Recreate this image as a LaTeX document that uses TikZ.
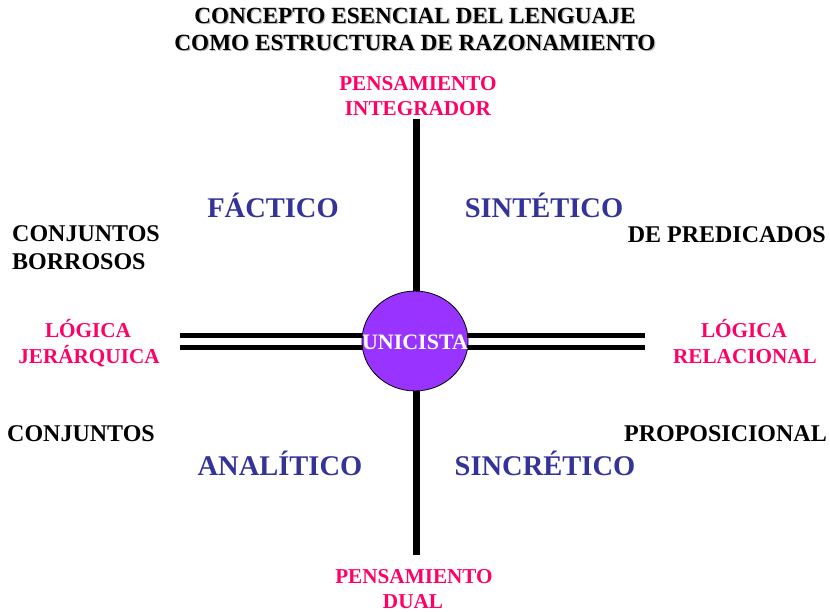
\documentclass[tikz,border=0pt]{standalone}
\usepackage{fontspec}
\setmainfont{Liberation Serif}
\definecolor{pinkc}{HTML}{FF0066}
\definecolor{bluec}{HTML}{333399}
\definecolor{purplec}{HTML}{9933FF}
\begin{document}
\begin{tikzpicture}[x=1pt,y=-1pt,
  ttl/.style={font=\bfseries\fontsize{23.2}{28}\selectfont, inner sep=0pt, anchor=base},
  ttlsh/.style={ttl, text=black!28},
  pk/.style={font=\bfseries\fontsize{21.2}{25}\selectfont, text=pinkc, inner sep=0pt, anchor=base},
  bl/.style={font=\bfseries\fontsize{28.5}{32}\selectfont, text=bluec, inner sep=0pt, anchor=base},
  bk/.style={font=\bfseries\fontsize{24}{28}\selectfont, text=black, inner sep=0pt},
  bar/.style={line width=6.5pt, black},
  hbar/.style={line width=5pt, black}]
\useasboundingbox (0,0) rectangle (830,611);
% title with shadow
\node[ttlsh] at (416.2,24.7) {CONCEPTO ESENCIAL DEL LENGUAJE};
\node[ttl] (t1) at (415,23.5) {CONCEPTO ESENCIAL DEL LENGUAJE};
\node[ttlsh] at (416.2,51.2) {COMO ESTRUCTURA DE RAZONAMIENTO};
\node[ttl] (t2) at (415,50) {COMO ESTRUCTURA DE RAZONAMIENTO};
% centre
\node[draw=black, line width=0.8pt, fill=purplec, circle, minimum size=103pt, inner sep=0pt, xscale=1.03, yscale=0.97] (c) at (415,341) {};
\coordinate (ctop) at (416.5,291);
\coordinate (cbot) at (416.5,391);
\coordinate (top) at (416.5,119);
\coordinate (bot) at (416.5,555);
\draw[bar] (top) -- (ctop);
\draw[bar] (cbot) -- (bot);
\coordinate (l1) at (180,335.5);
\coordinate (l2) at (180,347);
\coordinate (cl1) at (363,335.5);
\coordinate (cl2) at (363,347);
\coordinate (r1) at (645,335.5);
\coordinate (r2) at (645,347);
\coordinate (cr1) at (467,335.5);
\coordinate (cr2) at (467,347);
\draw[hbar] (l1) -- (cl1);
\draw[hbar] (l2) -- (cl2);
\draw[hbar] (cr1) -- (r1);
\draw[hbar] (cr2) -- (r2);
\node[font=\bfseries\fontsize{22}{26}\selectfont, text=white, inner sep=0pt, anchor=base] (u) at (415,349) {UNICISTA};
% pink labels
\node[pk] (pi1) at (418,90) {PENSAMIENTO};
\node[pk] (pi2) at (418,115) {INTEGRADOR};
\node[pk] (pd1) at (414,583) {PENSAMIENTO};
\node[pk] (pd2) at (413,608) {DUAL};
\node[pk] (lj1) at (88,337) {LÓGICA};
\node[pk] (lj2) at (89,363) {JERÁRQUICA};
\node[pk] (lr1) at (744,337) {LÓGICA};
\node[pk] (lr2) at (745,363) {RELACIONAL};
% blue labels
\node[bl] (f) at (273,217) {FÁCTICO};
\node[bl] (s) at (544,217) {SINTÉTICO};
\node[bl] (a) at (280,475) {ANALÍTICO};
\node[bl] (sc) at (545,475) {SINCRÉTICO};
% black labels
\node[bk, anchor=base west] (cb1) at (12,241) {CONJUNTOS};
\node[bk, anchor=base west] (cb2) at (12,269) {BORROSOS};
\node[bk, anchor=base east] (dp) at (826,242) {DE PREDICADOS};
\node[bk, anchor=base west] (cj) at (7,441) {CONJUNTOS};
\node[bk, anchor=base east] (pp) at (827,441) {PROPOSICIONAL};
\end{tikzpicture}
\end{document}
